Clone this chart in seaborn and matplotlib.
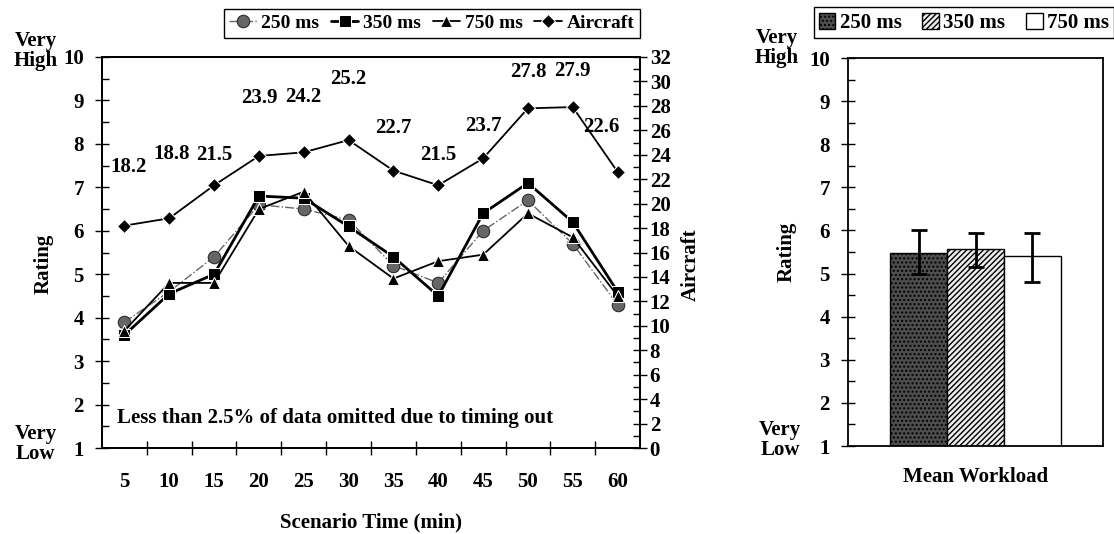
import numpy as np
import pandas as pd
import matplotlib
matplotlib.use("Agg")
import matplotlib.pyplot as plt
import seaborn as sns
from matplotlib.ticker import MultipleLocator, FixedLocator

# DATA
times = [5, 10, 15, 20, 25, 30, 35, 40, 45, 50, 55, 60]

rating_250 = [3.9, 4.6, 5.4, 6.6, 6.5, 6.25, 5.2, 4.8, 6.0, 6.7, 5.7, 4.3]
rating_350 = [3.6, 4.55, 5.0, 6.8, 6.75, 6.1, 5.4, 4.5, 6.4, 7.1, 6.2, 4.6]
rating_750 = [3.7, 4.8, 4.8, 6.5, 6.9, 5.65, 4.9, 5.3, 5.45, 6.4, 5.85, 4.5]
aircraft = [18.2, 18.8, 21.5, 23.9, 24.2, 25.2, 22.7, 21.5, 23.7, 27.8, 27.9, 22.6]

interval_labels = ["250 ms", "350 ms", "750 ms"]
mean_workload = [5.47, 5.57, 5.40]
err_low = [5.0, 5.15, 4.8]
err_high = [6.0, 5.95, 5.95]

# label offsets for the aircraft numbers (points)
label_dx = [3, 2, 0, 0, 0, 0, 0, 0, 0, 0, 0, -12]
label_dy = [42, 46, 22, 42, 40, 44, 31, 22, 23, 26, 26, 32]

# STYLE
sns.set_theme(style="ticks")
plt.rcParams["font.family"] = ["Liberation Serif", "DejaVu Serif"]
plt.rcParams["font.weight"] = "bold"
plt.rcParams["axes.labelweight"] = "bold"
plt.rcParams["axes.edgecolor"] = "black"
plt.rcParams["axes.linewidth"] = 1.3
plt.rcParams["xtick.color"] = "black"
plt.rcParams["ytick.color"] = "black"
plt.rcParams["text.color"] = "black"
plt.rcParams["axes.labelcolor"] = "black"

FS = 15

fig = plt.figure(figsize=(11.14, 5.34), dpi=100)

# LEFT: ratings over time
ax = fig.add_axes([102 / 1114, 1 - 448 / 534, 538 / 1114, 391 / 534])
pos = np.arange(len(times))

sns.lineplot(x=pos, y=rating_250, ax=ax, color="0.4", marker="o", markersize=9,
             markeredgecolor="0.15", linestyle="-.", linewidth=1.0, label="250 ms", legend=False)
sns.lineplot(x=pos, y=rating_350, ax=ax, color="black", marker="s", markersize=9,
             linewidth=2.0, label="350 ms", legend=False)
sns.lineplot(x=pos, y=rating_750, ax=ax, color="black", marker="^", markersize=9,
             linewidth=1.3, label="750 ms", legend=False)

ax.set_xlim(-0.5, len(times) - 0.5)
ax.set_ylim(1, 10)
ax.set_xticks(pos)
ax.set_xticklabels([str(t) for t in times], fontsize=FS, fontweight="bold")
ax.xaxis.set_minor_locator(FixedLocator(np.arange(0.5, len(times) - 1, 1.0)))
ax.tick_params(axis="x", which="major", length=0, pad=17)
ax.tick_params(axis="x", which="minor", direction="inout", length=10, width=1)
ax.yaxis.set_major_locator(MultipleLocator(1))
ax.yaxis.set_minor_locator(MultipleLocator(0.5))
ax.tick_params(axis="y", which="major", direction="inout", length=10, width=1, labelsize=FS, pad=8)
ax.tick_params(axis="y", which="minor", direction="in", length=5, width=1)
for lbl in ax.get_yticklabels():
    lbl.set_fontweight("bold")

ax.set_xlabel("Scenario Time (min)", fontsize=FS, fontweight="bold")
ax.xaxis.set_label_coords(0.5, -0.165)
ax.set_ylabel("Rating", fontsize=FS, fontweight="bold")
ax.yaxis.set_label_coords(-0.09, 0.47)

ax.text(-0.123, 1.015, "Very\nHigh", transform=ax.transAxes, ha="center", va="center",
        fontsize=FS, fontweight="bold", linespacing=1.0)
ax.text(-0.123, 0.01, "Very\nLow", transform=ax.transAxes, ha="center", va="center",
        fontsize=FS, fontweight="bold", linespacing=1.0)
ax.text(0.028, 0.077, "Less than 2.5% of data omitted due to timing out", transform=ax.transAxes,
        ha="left", va="center", fontsize=FS, fontweight="bold")

# aircraft count on the twin axis
ax2 = ax.twinx()
sns.lineplot(x=pos, y=aircraft, ax=ax2, color="black", marker="D", markersize=7,
             linewidth=1.3, label="Aircraft", legend=False)
ax2.set_ylim(0, 32)
ax2.yaxis.set_major_locator(MultipleLocator(2))
ax2.yaxis.set_minor_locator(MultipleLocator(1))
ax2.tick_params(axis="y", which="major", direction="inout", length=10, width=1, labelsize=FS, pad=2)
ax2.tick_params(axis="y", which="minor", direction="in", length=5, width=1)
for lbl in ax2.get_yticklabels():
    lbl.set_fontweight("bold")
ax2.set_ylabel("Aircraft", fontsize=FS, fontweight="bold", rotation=90)
ax2.yaxis.set_label_coords(1.075, 0.47)

for p, v, dx, dy in zip(pos, aircraft, label_dx, label_dy):
    ax2.annotate(f"{v:.1f}", (p, v), xytext=(dx, dy), textcoords="offset points",
                 ha="center", va="center", fontsize=FS, fontweight="bold")

handles = ax.get_lines()[:3] + ax2.get_lines()[:1]
fig.legend(handles, ["250 ms", "350 ms", "750 ms", "Aircraft"], loc="lower right",
           bbox_to_anchor=(640 / 1114, 1 - 38 / 534), ncol=4, frameon=True, fancybox=False,
           edgecolor="black", framealpha=1, prop={"weight": "bold", "size": 14},
           handlelength=1.4, handletextpad=0.25, columnspacing=0.6, borderpad=0.3,
           borderaxespad=0)

# RIGHT: mean workload bars
ax3 = fig.add_axes([848 / 1114, 1 - 446 / 534, 255 / 1114, 388 / 534])
df = pd.DataFrame({"group": ["Mean Workload"] * 3, "interval": interval_labels,
                   "rating": mean_workload})
sns.barplot(data=df, x="group", y="rating", hue="interval", ax=ax3,
            palette=["0.3", "0.93", "white"], width=0.667, gap=0,
            edgecolor="black", linewidth=1.0, legend=True)

hatches = ["....", "//////", ""]
centers = []
for cont, h in zip(ax3.containers, hatches):
    for bar in cont:
        bar.set_hatch(h)
        centers.append(bar.get_x() + bar.get_width() / 2)

yerr = [np.array(mean_workload) - np.array(err_low), np.array(err_high) - np.array(mean_workload)]
ax3.errorbar(centers, mean_workload, yerr=yerr, fmt="none", ecolor="black",
             elinewidth=2, capsize=6, capthick=2)

ax3.set_xlim(-0.5, 0.5)
ax3.set_ylim(1, 10)
ax3.yaxis.set_major_locator(MultipleLocator(1))
ax3.yaxis.set_minor_locator(MultipleLocator(0.5))
ax3.tick_params(axis="y", which="major", direction="inout", length=10, width=1, labelsize=FS, pad=8)
ax3.tick_params(axis="y", which="minor", direction="in", length=5, width=1)
ax3.tick_params(axis="x", length=0, labelsize=FS, pad=15)
for lbl in ax3.get_yticklabels() + ax3.get_xticklabels():
    lbl.set_fontweight("bold")
ax3.set_xlabel("")
ax3.set_ylabel("Rating", fontsize=FS, fontweight="bold")
ax3.yaxis.set_label_coords(-0.2, 0.5)

ax3.text(-0.278, 1.025, "Very\nHigh", transform=ax3.transAxes, ha="center", va="center",
         fontsize=FS, fontweight="bold", linespacing=1.0)
ax3.text(-0.267, 0.015, "Very\nLow", transform=ax3.transAxes, ha="center", va="center",
         fontsize=FS, fontweight="bold", linespacing=1.0)

leg = ax3.legend(loc="lower right", bbox_to_anchor=(1114 / 1114, 1 - 38 / 534),
                 bbox_transform=fig.transFigure, ncol=3, frameon=True, fancybox=False,
                 edgecolor="black", framealpha=1, prop={"weight": "bold", "size": FS},
                 handlelength=0.8, handleheight=0.8, handletextpad=0.2, columnspacing=1.0,
                 borderpad=0.25, borderaxespad=0)
for patch, h in zip(leg.get_patches(), hatches):
    patch.set_hatch(h)

plt.savefig("out.png", dpi=100)
